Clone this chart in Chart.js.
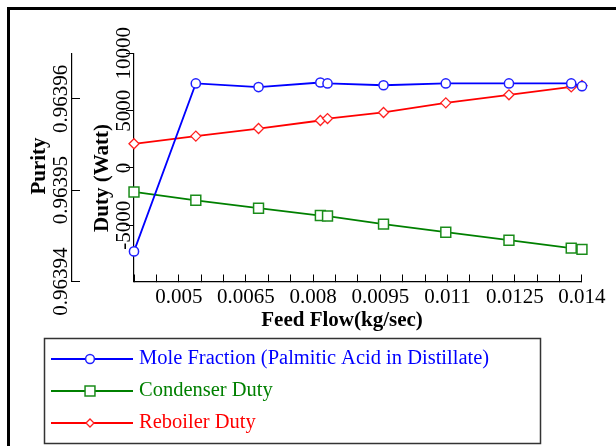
<!DOCTYPE html>
<html>
<head>
<meta charset="utf-8">
<script src="https://cdn.jsdelivr.net/npm/chart.js@4.4.1/dist/chart.umd.min.js"></script>
<style>
  html, body { margin: 0; padding: 0; background: #fff; overflow: hidden; }
  #wrap { position: relative; width: 616px; height: 446px; }
  #frame {
    position: absolute; left: 7px; top: 7px; width: 700px; height: 500px;
    border-left: 3px solid #000; border-top: 3px solid #000; pointer-events: none;
  }
</style>
</head>
<body>
<div id="wrap">
  <canvas id="chart"></canvas>
  <div id="frame"></div>
</div>
<script>
// feed flow (kg/sec) for each run
const feedFlow = [0.004, 0.00538, 0.00678, 0.00816, 0.00832, 0.00957, 0.01096, 0.01237, 0.01376, 0.014];
// palmitic acid mole fraction in distillate (purity)
const moleFraction = [0.9639433, 0.9639617, 0.9639613, 0.9639618, 0.9639617, 0.9639615, 0.9639617, 0.9639617, 0.9639617, 0.9639614];
// duties in W
const condenserDuty = [-2090, -2820, -3510, -4150, -4190, -4900, -5600, -6300, -6990, -7100];
const reboilerDuty = [2110, 2780, 3440, 4140, 4310, 4840, 5680, 6380, 7070, 7190];

const xTickLabels = ['0.005', '0.0065', '0.008', '0.0095', '0.011', '0.0125', '0.014'];
const dutyTickLabels = ['-5000', '0', '5000', '10000'];
const purityTickLabels = ['0.96394', '0.96395', '0.96396'];

const serif = "'Liberation Serif', 'Times New Roman', serif";

const labelFor = (list, v) => list.find(t => Math.abs(Number(t) - v) < 1e-10) || '';
const toPoints = ys => feedFlow.map((x, i) => ({ x, y: ys[i] }));
const stepTicks = (from, step, count) => Array.from({ length: count }, (_, i) => ({ value: from + i * step }));

// line + marker legend inside a framed box under the plot
const legendBox = {
  id: 'legendBox',
  afterDraw(chart) {
    const { ctx } = chart;
    ctx.save();
    ctx.strokeStyle = '#333';
    ctx.lineWidth = 1.5;
    ctx.strokeRect(44.5, 338.5, 496, 105);
    chart.data.datasets.forEach((ds, i) => {
      const y = 359 + i * 32;
      ctx.strokeStyle = ds.borderColor;
      ctx.lineWidth = ds.borderWidth;
      ctx.beginPath();
      ctx.moveTo(51, y);
      ctx.lineTo(133, y);
      ctx.stroke();
      ctx.fillStyle = '#fff';
      ctx.strokeStyle = ds.pointBorderColor;
      ctx.lineWidth = ds.pointBorderWidth;
      Chart.helpers.drawPoint(ctx, {
        pointStyle: ds.pointStyle, radius: ds.legendRadius, borderWidth: ds.pointBorderWidth, rotation: 0
      }, 90, y);
      ctx.fillStyle = ds.borderColor;
      ctx.font = '20.5px ' + serif;
      ctx.textAlign = 'left';
      ctx.textBaseline = 'middle';
      ctx.fillText(ds.label, 139, y);
    });
    ctx.restore();
  }
};

const axisTitles = {
  id: 'axisTitles',
  afterDraw(chart) {
    const { ctx } = chart;
    ctx.save();
    ctx.fillStyle = '#000';
    ctx.font = 'bold 21px ' + serif;
    ctx.textAlign = 'center';
    ctx.textBaseline = 'middle';
    ctx.fillText('Feed Flow(kg/sec)', 342, 321);
    [['Purity', 40, 166], ['Duty (Watt)', 103, 178]].forEach(([text, x, y]) => {
      ctx.save();
      ctx.translate(x, y);
      ctx.rotate(-Math.PI / 2);
      ctx.fillText(text, 0, 0);
      ctx.restore();
    });
    ctx.restore();
  }
};

const tickFont = { family: serif, size: 21 };

new Chart(document.getElementById('chart'), {
  type: 'line',
  data: {
    datasets: [
      {
        label: 'Mole Fraction (Palmitic Acid in Distillate)',
        data: toPoints(moleFraction),
        yAxisID: 'purity',
        borderColor: '#0000ff',
        pointBorderColor: '#2020ff',
        pointBackgroundColor: '#fff',
        pointStyle: 'circle',
        pointRadius: 4.6,
        legendRadius: 4.4,
        pointBorderWidth: 1.5,
        borderWidth: 1.8,
        clip: false
      },
      {
        label: 'Condenser Duty',
        data: toPoints(condenserDuty),
        yAxisID: 'duty',
        borderColor: '#008000',
        pointBorderColor: '#1a8c1a',
        pointBackgroundColor: '#fff',
        pointStyle: 'rect',
        pointRadius: 7,
        legendRadius: 7,
        pointBorderWidth: 1.5,
        borderWidth: 1.8,
        clip: false
      },
      {
        label: 'Reboiler Duty',
        data: toPoints(reboilerDuty),
        yAxisID: 'duty',
        borderColor: '#ff0000',
        pointBorderColor: '#ff2020',
        pointBackgroundColor: '#fff',
        pointStyle: 'rectRot',
        pointRadius: 5,
        legendRadius: 4,
        pointBorderWidth: 1.3,
        borderWidth: 1.8,
        clip: false
      }
    ]
  },
  options: {
    responsive: true,
    maintainAspectRatio: false,
    animation: false,
    layout: { padding: { left: 10, top: 53.3, right: 30, bottom: 124.5 } },
    plugins: { legend: { display: false }, tooltip: { enabled: false } },
    scales: {
      x: {
        type: 'linear',
        position: 'bottom',
        bounds: 'data',
        min: 0.004,
        max: 0.014,
        afterBuildTicks: s => { s.ticks = stepTicks(0.004, 0.0005, 21); },
        afterFit: s => { s.height = 40; },
        grid: { drawOnChartArea: false, tickLength: -7, tickColor: '#000', tickWidth: 1 },
        border: { display: true, color: '#000', width: 1.2 },
        ticks: {
          autoSkip: false, minRotation: 0, maxRotation: 0, padding: 10.4,
          color: '#000', font: tickFont,
          callback: v => labelFor(xTickLabels, v)
        }
      },
      duty: {
        type: 'linear',
        position: 'left',
        weight: 0,
        bounds: 'data',
        min: -9900,
        max: 10000,
        afterBuildTicks: s => { s.ticks = dutyTickLabels.map(t => ({ value: Number(t) })); },
        afterFit: s => { s.width = 62; },
        grid: { drawOnChartArea: false, tickLength: 8, tickColor: '#000', tickWidth: 1 },
        border: { display: true, color: '#000', width: 1.2 },
        ticks: {
          minRotation: 90, maxRotation: 90, crossAlign: 'center', padding: -25,
          color: '#000', font: tickFont,
          callback: v => labelFor(dutyTickLabels, v)
        }
      },
      purity: {
        type: 'linear',
        position: 'left',
        weight: 1,
        bounds: 'data',
        min: 0.96394,
        max: 0.963965,
        afterBuildTicks: s => { s.ticks = stepTicks(0.96394, 0.000005, 6); },
        afterFit: s => { s.width = 62; },
        grid: { drawOnChartArea: false, tickLength: -8, tickColor: '#000', tickWidth: 1 },
        border: { display: true, color: '#000', width: 1.2 },
        ticks: {
          minRotation: 90, maxRotation: 90, crossAlign: 'center', padding: -15.5,
          color: '#000', font: tickFont,
          callback: v => labelFor(purityTickLabels, v)
        }
      }
    }
  },
  plugins: [legendBox, axisTitles]
});
</script>
</body>
</html>
